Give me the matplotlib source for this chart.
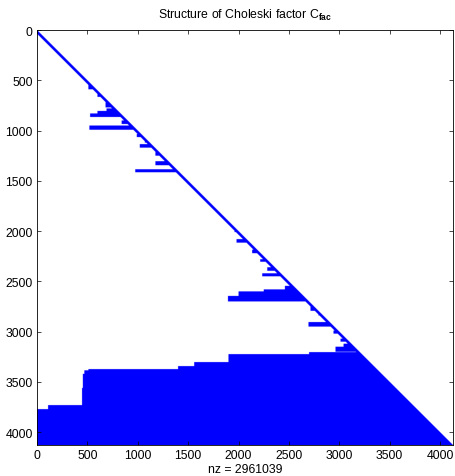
import numpy as np
import matplotlib
matplotlib.use("Agg")
import matplotlib.pyplot as plt
from matplotlib.colors import ListedColormap

# Sparsity structure of the lower-triangular Cholesky factor
N = 4128
nnz_count = 2961039
diag_band = 36

# Fill-in "spikes": rows [start, end) hold nonzeros from col_start up to the diagonal
spike_row_start = [540, 620, 720, 780, 805, 830, 900, 950, 1035, 1090, 1135,
                   1215, 1305, 1385, 1975, 2080, 2185, 2280, 2360, 2420, 2545,
                   2580, 2600, 2645, 2745, 2805, 2905, 2990, 3070, 3120, 3150]
spike_row_end = [590, 665, 770, 805, 830, 865, 935, 992, 1065, 1120, 1170,
                 1250, 1345, 1415, 2010, 2115, 2220, 2305, 2395, 2450, 2580,
                 2600, 2645, 2700, 2793, 2840, 2950, 3020, 3100, 3150, 3200]
spike_col_start = [510, 600, 680, 690, 600, 527, 840, 520, 990, 1070, 1020,
                   1175, 1175, 975, 1960, 1980, 2135, 2215, 2285, 2235, 2460,
                   2250, 2000, 1895, 2714, 2793, 2694, 2942, 3012, 3042, 2962]

# Dense trailing block: column ranges starting at block_col_start are full from block_row_start down
block_col_start = [0, 110, 447, 455, 470, 510, 1400, 1560, 1900, 2700]
block_row_start = [3771, 3731, 3560, 3420, 3385, 3373, 3343, 3303, 3224, 3204]

rows = np.arange(N)[:, None]
cols = np.arange(N)[None, :]

# first nonzero row of the dense block for every column
edges = list(block_col_start) + [N]
top = np.repeat(block_row_start, np.diff(edges))

Z = (rows >= top[None, :])
Z |= (cols >= rows - diag_band)
for r0, r1, c0 in zip(spike_row_start, spike_row_end, spike_col_start):
    Z[r0:r1, c0:r1] = True
Z &= (cols <= rows)

plt.rcParams["font.family"] = ["Liberation Sans", "DejaVu Sans"]
plt.rcParams["mathtext.fontset"] = "custom"
plt.rcParams["mathtext.rm"] = "Liberation Sans"
plt.rcParams["mathtext.bf"] = "Liberation Sans:bold"

fig = plt.figure(figsize=(4.55, 4.77), dpi=100)
ax = fig.add_axes([37 / 455, 31 / 477, 416 / 455, 415 / 477])

cmap = ListedColormap(["white", "#0000ff"])
ax.imshow(Z.astype(np.uint8), cmap=cmap, vmin=0, vmax=1,
          extent=(0.5, N + 0.5, N + 0.5, 0.5), aspect="auto",
          interpolation="antialiased")

ax.set_xlim(0, N + 1)
ax.set_ylim(N + 1, 0)
ticks = np.arange(0, 4001, 500)
ax.set_xticks(ticks)
ax.set_yticks(ticks)
ax.tick_params(direction="in", length=3.2, width=0.5, labelsize=8.8,
               top=True, right=True, pad=3, colors="black")
for s in ax.spines.values():
    s.set_linewidth(0.6)

ax.set_title(r"Structure of Choleski factor C$_{\mathbf{fac}}$", fontsize=8.8, pad=9)
ax.set_xlabel(f"nz = {nnz_count}", fontsize=8.8, labelpad=1)

fig.savefig("out.png", dpi=100)
